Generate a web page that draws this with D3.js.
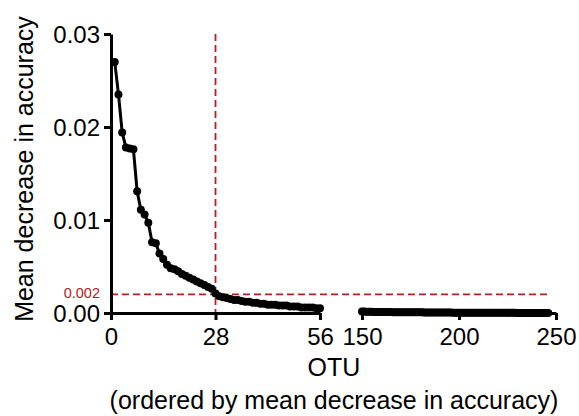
<!DOCTYPE html>
<html><head><meta charset="utf-8">
<script src="https://cdn.jsdelivr.net/npm/d3@7"></script>
<style>
html,body{margin:0;padding:0;background:#fff;}
svg{display:block;font-family:"Liberation Sans",Arial,sans-serif;}
</style></head>
<body>
<svg id="chart" width="579" height="416"></svg>
<script>
// ranks 1..56 (first segment)
const seg1Values = [
  0.0270,0.0235,0.0194,0.0178,0.0177,0.0176,0.0131,0.0111,0.0106,0.0097,
  0.0076,0.0075,0.0064,0.0058,0.0052,0.0048,0.0047,0.0045,0.0042,0.0040,
  0.0038,0.0036,0.0034,0.0032,0.0030,0.0028,0.0026,0.0021,0.0018,0.0017,
  0.0016,0.0015,0.0014,0.0014,0.0013,0.0012,0.0012,0.0011,0.0011,0.0010,
  0.0010,0.0009,0.0009,0.0009,0.0008,0.0008,0.0008,0.0007,0.0007,0.0007,
  0.0006,0.0006,0.0006,0.0006,0.0005,0.0005
];
const seg1Start = 1;
// ranks 150..246 (second segment)
const seg2Values = [
  0.00016,0.00015,0.00014,0.00014,0.00013,0.00013,0.00012,0.00012,0.00012,0.00011,
  0.00011,0.00011,0.00010,0.00010,0.00010,0.00010,0.00009,0.00009,0.00009,0.00009,
  0.00009,0.00008,0.00008,0.00008,0.00008,0.00008,0.00007,0.00007,0.00007,0.00007,
  0.00007,0.00007,0.00006,0.00006,0.00006,0.00006,0.00006,0.00006,0.00006,0.00005,
  0.00005,0.00005,0.00005,0.00005,0.00005,0.00005,0.00005,0.00004,0.00004,0.00004,
  0.00004,0.00004,0.00004,0.00004,0.00004,0.00004,0.00003,0.00003,0.00003,0.00003,
  0.00003,0.00003,0.00003,0.00003,0.00003,0.00003,0.00003,0.00002,0.00002,0.00002,
  0.00002,0.00002,0.00002,0.00002,0.00002,0.00002,0.00002,0.00002,0.00002,0.00002,
  0.00001,0.00001,0.00001,0.00001,0.00001,0.00001,0.00001,0.00001,0.00001,0.00001,
  0.00001,0.00001,0.00001,0.00001,0.00001,0.00001,0.00001
];
const seg2Start = 150;
const yTicks = [0, 0.01, 0.02, 0.03];
const yTickLabels = ["0.00","0.01","0.02","0.03"];
const xTicks1 = [0, 28, 56];
const xTicks2 = [150, 200, 250];
const cutoffRank = 28;
const cutoffValue = 0.002;
const cutoffLabel = "0.002";
const yTitle = "Mean decrease in accuracy";
const xTitle1 = "OTU";
const xTitle2 = "(ordered by mean decrease in accuracy)";

const svg = d3.select("#chart");
const y = d3.scaleLinear().domain([0, 0.03]).range([313, 34]);
const x1 = d3.scaleLinear().domain([0, 56]).range([111, 320]);
const x2 = d3.scaleLinear().domain([150, 250]).range([362, 556]);
const red = "#b22222";

const d1 = seg1Values.map((v,i)=>({r: seg1Start+i, v}));
const d2 = seg2Values.map((v,i)=>({r: seg2Start+i, v}));

// reference lines
svg.append("line").attr("x1", x1(0)).attr("x2", x2(247))
  .attr("y1", y(cutoffValue)).attr("y2", y(cutoffValue))
  .attr("stroke", red).attr("stroke-width", 1.8).attr("stroke-dasharray", "7,4");
svg.append("line").attr("x1", x1(cutoffRank)).attr("x2", x1(cutoffRank))
  .attr("y1", y(0.03)).attr("y2", y(0))
  .attr("stroke", red).attr("stroke-width", 1.8).attr("stroke-dasharray", "7,4");
svg.append("text").attr("x", 100).attr("y", 298)
  .attr("text-anchor","end").attr("fill", red).attr("font-size", 14.5).text(cutoffLabel);

function styleAxis(g){
  g.select(".domain").attr("stroke","#000").attr("stroke-width",3);
  g.selectAll(".tick line").attr("stroke","#000").attr("stroke-width",3);
  g.selectAll(".tick text").attr("fill","#000").attr("font-size",24)
    .attr("font-family","'Liberation Sans',Arial,sans-serif");
}

// y axis
const gy = svg.append("g").attr("transform","translate(111,0)")
  .call(d3.axisLeft(y).tickValues(yTicks).tickSize(7).tickSizeOuter(0).tickPadding(4)
    .tickFormat((d,i)=>yTickLabels[i]));
styleAxis(gy);
gy.selectAll(".tick text").attr("dy","0.36em");

// x axes
const gx1 = svg.append("g").attr("transform","translate(0,313)")
  .call(d3.axisBottom(x1).tickValues(xTicks1).tickSize(7).tickSizeOuter(0).tickPadding(8));
styleAxis(gx1);
const gx2 = svg.append("g").attr("transform","translate(0,313)")
  .call(d3.axisBottom(x2).tickValues(xTicks2).tickSize(7).tickSizeOuter(0).tickPadding(8));
styleAxis(gx2);

// lines and points
const line1 = d3.line().x(d=>x1(d.r)).y(d=>y(d.v));
const line2 = d3.line().x(d=>x2(d.r)).y(d=>y(d.v));
svg.append("path").datum(d1).attr("d", line1).attr("fill","none").attr("stroke","#000").attr("stroke-width",3);
svg.append("path").datum(d2).attr("d", line2).attr("fill","none").attr("stroke","#000").attr("stroke-width",3);
svg.append("g").selectAll("circle").data(d1).join("circle")
  .attr("cx", d=>x1(d.r)).attr("cy", d=>y(d.v)).attr("r", 4).attr("fill","#000");
svg.append("g").selectAll("circle").data(d2).join("circle")
  .attr("cx", d=>x2(d.r)).attr("cy", d=>y(d.v)).attr("r", 4).attr("fill","#000");

// titles
svg.append("text").attr("transform","translate(33,169) rotate(-90)")
  .attr("text-anchor","middle").attr("font-size",25).attr("fill","#000").text(yTitle);
svg.append("text").attr("x", 334).attr("y", 376).attr("text-anchor","middle")
  .attr("font-size",25).attr("fill","#000").text(xTitle1);
svg.append("text").attr("x", 334).attr("y", 409).attr("text-anchor","middle")
  .attr("font-size",25).attr("fill","#000").text(xTitle2);
</script>
</body></html>
